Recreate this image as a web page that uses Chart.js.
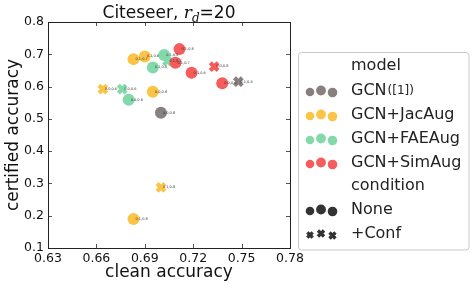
<!DOCTYPE html>
<html>
<head>
<meta charset="utf-8">
<script src="https://cdn.jsdelivr.net/npm/chart.js@4.4.1/dist/chart.umd.min.js"></script>
<style>
  html, body { margin: 0; padding: 0; background: #fff; }
</style>
</head>
<body>
<canvas id="scatterChart" width="474" height="289"></canvas>
<script>
// axis ticks
var xTicks = [0.63, 0.66, 0.69, 0.72, 0.75, 0.78];
var yTicks = [0.1, 0.2, 0.3, 0.4, 0.5, 0.6, 0.7, 0.8];

// legend entries
var models = ['GCN', 'GCN+JacAug', 'GCN+FAEAug', 'GCN+SimAug'];
var modelColors = ['#8a7f7f', '#fbc447', '#84d9ab', '#f65c5c'];
var conditions = ['None', '+Conf'];

// GCN ([1])
var gcnClean = [0.700];
var gcnCert = [0.519];
var gcnTags = ['0.0,0.8'];
var gcnConfClean = [0.748];
var gcnConfCert = [0.615];
var gcnConfTags = ['0.1,0.6'];

// GCN+JacAug
var jacClean = [0.683, 0.690, 0.695, 0.683];
var jacCert = [0.685, 0.693, 0.584, 0.190];
var jacTags = ['0.1,0.7', '0.1,0.6', '0.0,0.8', '0.1,0.8'];
var jacConfClean = [0.664, 0.700];
var jacConfCert = [0.592, 0.288];
var jacConfTags = ['0.0,0.6', '0.1,0.8'];

// GCN+FAEAug
var faeClean = [0.702, 0.695, 0.680];
var faeCert = [0.698, 0.659, 0.559];
var faeTags = ['0.1,0.8', '0.1,0.6', '0.0,0.6'];
var faeConfClean = [0.676, 0.704];
var faeConfCert = [0.592, 0.679];
var faeConfTags = ['0.0,0.6', '0.1,0.7'];

// GCN+SimAug
var simClean = [0.7115, 0.709, 0.719, 0.738];
var simCert = [0.716, 0.674, 0.643, 0.610];
var simTags = ['0.1,0.8', '0.1,0.7', '0.1,0.6', '0.0,0.6'];
var simConfClean = [0.733];
var simConfCert = [0.662];
var simConfTags = ['0.0,0.8'];

var FONT = 'DejaVu Sans';

function points(xs, ys, tags) {
    return xs.map(function (x, i) { return {x: x, y: ys[i], tag: tags[i]}; });
}

function series(xs, ys, tags, color, conf, order) {
    return {
        data: points(xs, ys, tags),
        backgroundColor: color,
        borderColor: color,
        pointStyle: conf ? 'crossRot' : 'circle',
        pointRadius: conf ? 5.5 : 6,
        pointBorderWidth: conf ? 4.2 : 0,
        order: order
    };
}

var datasets = [
    series(gcnClean, gcnCert, gcnTags, modelColors[0], false, 8),
    series(gcnConfClean, gcnConfCert, gcnConfTags, modelColors[0], true, 7),
    series(jacClean, jacCert, jacTags, modelColors[1], false, 6),
    series(jacConfClean, jacConfCert, jacConfTags, modelColors[1], true, 5),
    series(faeClean, faeCert, faeTags, modelColors[2], false, 4),
    series(faeConfClean, faeConfCert, faeConfTags, modelColors[2], true, 3),
    series(simClean, simCert, simTags, modelColors[3], false, 2),
    series(simConfClean, simConfCert, simConfTags, modelColors[3], true, 1)
];

// tiny text next to each point
var pointTags = {
    id: 'pointTags',
    afterDatasetsDraw: function (chart) {
        var ctx = chart.ctx;
        ctx.save();
        ctx.font = '3.5px ' + FONT;
        ctx.fillStyle = '#333';
        ctx.textBaseline = 'middle';
        chart.data.datasets.forEach(function (ds, i) {
            chart.getDatasetMeta(i).data.forEach(function (el, j) {
                ctx.fillText(ds.data[j].tag, el.x + 2, el.y);
            });
        });
        ctx.restore();
    }
};

// frame with inward ticks on all four sides
var frame = {
    id: 'frame',
    afterDraw: function (chart) {
        var ctx = chart.ctx, a = chart.chartArea;
        var xs = chart.scales.x, ys = chart.scales.y;
        ctx.save();
        ctx.strokeStyle = '#555';
        ctx.lineWidth = 1;
        ctx.beginPath();
        xTicks.forEach(function (v) {
            var px = Math.round(xs.getPixelForValue(v)) + 0.5;
            ctx.moveTo(px, a.bottom); ctx.lineTo(px, a.bottom - 4);
            ctx.moveTo(px, a.top); ctx.lineTo(px, a.top + 4);
        });
        yTicks.forEach(function (v) {
            var py = Math.round(ys.getPixelForValue(v)) + 0.5;
            ctx.moveTo(a.left, py); ctx.lineTo(a.left + 4, py);
            ctx.moveTo(a.right, py); ctx.lineTo(a.right - 4, py);
        });
        ctx.stroke();
        ctx.strokeStyle = '#222';
        ctx.strokeRect(Math.round(a.left) + 0.5, Math.round(a.top) + 0.5,
            Math.round(a.right - a.left), Math.round(a.bottom - a.top));
        ctx.restore();
    }
};

// title with math subscript
var mathTitle = {
    id: 'mathTitle',
    afterDraw: function (chart) {
        var ctx = chart.ctx, a = chart.chartArea;
        var parts = [
            {t: 'Citeseer, ', f: '17px ' + FONT, dy: 0},
            {t: 'r', f: 'italic 17px DejaVu Serif', dy: 0},
            {t: 'd', f: 'italic 12px DejaVu Serif', dy: 4},
            {t: '=20', f: '17px ' + FONT, dy: 0}
        ];
        ctx.save();
        ctx.fillStyle = '#111';
        ctx.textBaseline = 'alphabetic';
        var total = 0;
        parts.forEach(function (p) { ctx.font = p.f; p.w = ctx.measureText(p.t).width; total += p.w; });
        var x = (a.left + a.right) / 2 - total / 2;
        parts.forEach(function (p) {
            ctx.font = p.f;
            ctx.fillText(p.t, x, 18 + p.dy);
            x += p.w;
        });
        ctx.restore();
    }
};

// matplotlib style legend box on the right
var sideLegend = {
    id: 'sideLegend',
    afterDraw: function (chart) {
        var ctx = chart.ctx;
        var bx = 298.5, by = 52.5, bw = 170.5, bh = 197.5, r = 3;
        ctx.save();
        ctx.beginPath();
        ctx.moveTo(bx + r, by);
        ctx.arcTo(bx + bw, by, bx + bw, by + bh, r);
        ctx.arcTo(bx + bw, by + bh, bx, by + bh, r);
        ctx.arcTo(bx, by + bh, bx, by, r);
        ctx.arcTo(bx, by, bx + bw, by, r);
        ctx.closePath();
        ctx.fillStyle = '#fff';
        ctx.fill();
        ctx.strokeStyle = '#c8c8c8';
        ctx.lineWidth = 1;
        ctx.stroke();

        var rows = [66, 91, 115, 139, 163, 186, 210, 234];
        var textX = 351;
        var dotX = [310, 321, 332.5];
        var dotR = [4.3, 4.9, 4.8];
        var dotDy = [1, -0.5, 1.5];
        ctx.textBaseline = 'middle';
        ctx.fillStyle = '#222';
        ctx.font = '16px ' + FONT;

        function dots(y, color) {
            ctx.fillStyle = color;
            dotX.forEach(function (x, k) {
                ctx.beginPath();
                ctx.arc(x, y + dotDy[k], dotR[k], 0, Math.PI * 2);
                ctx.fill();
            });
        }
        function crosses(y, color) {
            ctx.strokeStyle = color;
            ctx.lineWidth = 3.4;
            dotX.forEach(function (x, k) {
                var s = dotR[k] * 0.62;
                var cy = y + dotDy[k];
                ctx.beginPath();
                ctx.moveTo(x - s, cy - s); ctx.lineTo(x + s, cy + s);
                ctx.moveTo(x + s, cy - s); ctx.lineTo(x - s, cy + s);
                ctx.stroke();
            });
        }

        ctx.fillText('model', textX, rows[0]);
        models.forEach(function (m, i) {
            dots(rows[i + 1], modelColors[i]);
            ctx.fillStyle = '#222';
            ctx.font = '16px ' + FONT;
            ctx.fillText(m, textX, rows[i + 1]);
            if (i === 0) {
                var w = ctx.measureText(m).width;
                ctx.font = '12px ' + FONT;
                ctx.fillText('([1])', textX + w + 1, rows[i + 1]);
            }
        });
        ctx.fillStyle = '#222';
        ctx.font = '16px ' + FONT;
        ctx.fillText('condition', textX, rows[5]);
        dots(rows[6], '#333');
        ctx.fillStyle = '#222';
        ctx.fillText(conditions[0], textX, rows[6]);
        crosses(rows[7], '#333');
        ctx.fillStyle = '#222';
        ctx.fillText(conditions[1], textX, rows[7]);
        ctx.restore();
    }
};

var ctx = document.getElementById('scatterChart').getContext('2d');
var chart = new Chart(ctx, {
    type: 'scatter',
    data: {datasets: datasets},
    options: {
        responsive: false,
        animation: false,
        layout: {padding: {left: 0, top: 22, right: 184, bottom: 0}},
        plugins: {legend: {display: false}, tooltip: {enabled: false}},
        scales: {
            x: {
                min: 0.63, max: 0.78,
                afterBuildTicks: function (s) { s.ticks = xTicks.map(function (v) { return {value: v}; }); },
                afterFit: function (s) { s.height = 41; },
                grid: {display: false, drawTicks: false},
                border: {display: false},
                ticks: {
                    padding: 3, color: '#111', maxRotation: 0, autoSkip: false,
                    font: {family: FONT, size: 12.5},
                    callback: function (v) { return v.toFixed(2); }
                },
                title: {
                    display: true, text: 'clean accuracy', color: '#111',
                    font: {family: FONT, size: 17}, padding: {top: 0, bottom: 6}
                }
            },
            y: {
                min: 0.1, max: 0.8,
                afterBuildTicks: function (s) { s.ticks = yTicks.map(function (v) { return {value: v}; }); },
                afterFit: function (s) { s.width = 48; },
                grid: {display: false, drawTicks: false},
                border: {display: false},
                ticks: {
                    padding: 4, color: '#111', autoSkip: false,
                    font: {family: FONT, size: 12.5},
                    callback: function (v) { return v.toFixed(1); }
                },
                title: {
                    display: true, text: 'certified accuracy', color: '#111',
                    font: {family: FONT, size: 17}, padding: {top: 3, bottom: 0}
                }
            }
        }
    },
    plugins: [pointTags, frame, mathTitle, sideLegend]
});
</script>
</body>
</html>
